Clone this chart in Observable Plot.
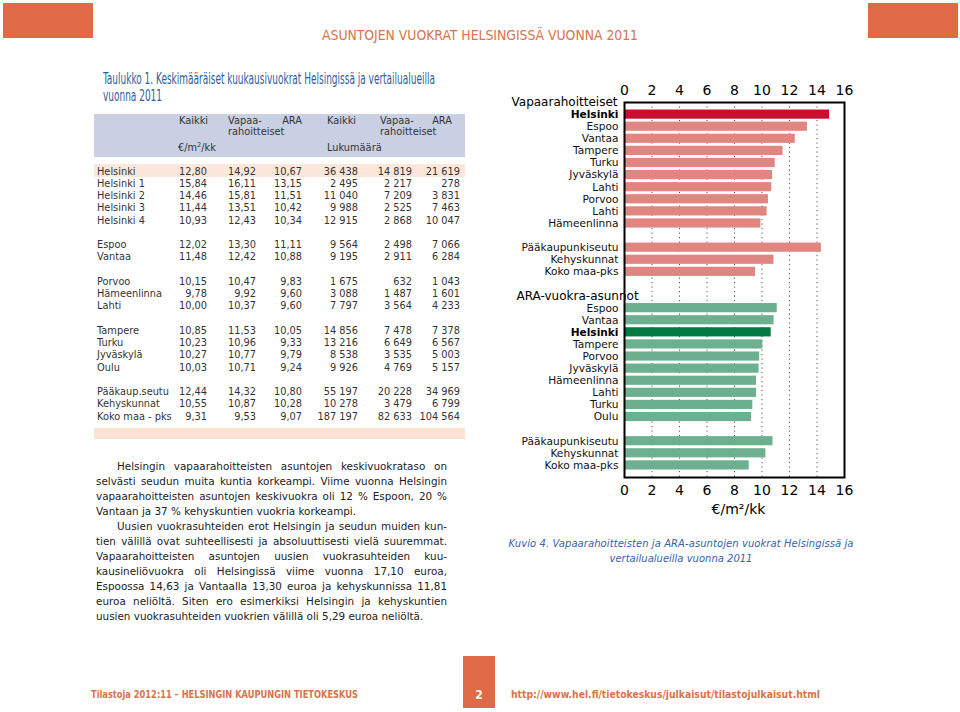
<!DOCTYPE html>
<html><head><meta charset="utf-8">
<script src="https://cdn.jsdelivr.net/npm/d3@7"></script>
<script src="https://cdn.jsdelivr.net/npm/@observablehq/plot@0.6"></script>
<style>
html,body{margin:0;padding:0;background:#fff;}
#page{position:relative;width:960px;height:712px;overflow:hidden;}
#page > svg{position:absolute;left:0;top:0;}
#chart{position:absolute;left:500px;top:80px;}
</style></head><body><div id="page"><div id="chart"></div></div>
<script>
// ---------- Bar chart data (Kuvio 4) ----------
const groupTitles = ["Vapaarahoitteiset", "ARA-vuokra-asunnot"];
const vapaaCities = ["Helsinki","Espoo","Vantaa","Tampere","Turku","Jyväskylä","Lahti","Porvoo","Lahti","Hämeenlinna"];
const vapaaCityValues = [14.92,13.30,12.42,11.53,10.96,10.77,10.71,10.47,10.37,9.92];
const regionLabels = ["Pääkaupunkiseutu","Kehyskunnat","Koko maa-pks"];
const vapaaRegionValues = [14.32,10.87,9.53];
const araCities = ["Espoo","Vantaa","Helsinki","Tampere","Porvoo","Jyväskylä","Hämeenlinna","Lahti","Turku","Oulu"];
const araCityValues = [11.11,10.88,10.67,10.05,9.83,9.79,9.60,9.60,9.33,9.24];
const araRegionValues = [10.80,10.28,9.07];
const xTicks = [0,2,4,6,8,10,12,14,16];
const unitLabel = "€/m²/kk";
const captionLines = ["Kuvio 4.  Vapaarahoitteisten ja ARA-asuntojen vuokrat Helsingissä ja","vertailualueilla vuonna 2011"];

// ---------- Table data (Taulukko 1) ----------
const tableTitle = ["Taulukko 1.  Keskimääräiset kuukausivuokrat Helsingissä ja vertailualueilla","vuonna 2011"];
const tableAreas = [["Helsinki","Helsinki 1","Helsinki 2","Helsinki 3","Helsinki 4"],["Espoo","Vantaa"],["Porvoo","Hämeenlinna","Lahti"],["Tampere","Turku","Jyväskylä","Oulu"],["Pääkaup.seutu","Kehyskunnat","Koko maa - pks"]];
const eurKaikki = [["12,80","15,84","14,46","11,44","10,93"],["12,02","11,48"],["10,15","9,78","10,00"],["10,85","10,23","10,27","10,03"],["12,44","10,55","9,31"]];
const eurVapaa  = [["14,92","16,11","15,81","13,51","12,43"],["13,30","12,42"],["10,47","9,92","10,37"],["11,53","10,96","10,77","10,71"],["14,32","10,87","9,53"]];
const eurAra    = [["10,67","13,15","11,51","10,42","10,34"],["11,11","10,88"],["9,83","9,60","9,60"],["10,05","9,33","9,79","9,24"],["10,80","10,28","9,07"]];
const lkmKaikki = [["36 438","2 495","11 040","9 988","12 915"],["9 564","9 195"],["1 675","3 088","7 797"],["14 856","13 216","8 538","9 926"],["55 197","10 278","187 197"]];
const lkmVapaa  = [["14 819","2 217","7 209","2 525","2 868"],["2 498","2 911"],["632","1 487","3 564"],["7 478","6 649","3 535","4 769"],["20 228","3 479","82 633"]];
const lkmAra    = [["21 619","278","3 831","7 463","10 047"],["7 066","6 284"],["1 043","1 601","4 233"],["7 378","6 567","5 003","5 157"],["34 969","6 799","104 564"]];

// ---------- Text ----------
const headerTitle = "ASUNTOJEN VUOKRAT HELSINGISSÄ VUONNA 2011";
const bodyLines = [
 ["Helsingin vapaarahoitteisten asuntojen keskivuokrataso on", "indent"],
 ["selvästi seudun muita kuntia korkeampi. Viime vuonna Helsingin", "full"],
 ["vapaarahoitteisten asuntojen keskivuokra oli 12 % Espoon, 20 %", "full"],
 ["Vantaan ja 37 % kehyskuntien vuokria korkeampi.", "last"],
 ["Uusien vuokrasuhteiden erot Helsingin ja seudun muiden kun-", "indent"],
 ["tien välillä ovat suhteellisesti ja absoluuttisesti vielä suuremmat.", "full"],
 ["Vapaarahoitteisten asuntojen uusien vuokrasuhteiden kuu-", "full"],
 ["kausineliövuokra oli Helsingissä viime vuonna 17,10 euroa,", "full"],
 ["Espoossa 14,63 ja Vantaalla 13,30 euroa ja kehyskunnissa 11,81", "full"],
 ["euroa neliöltä. Siten ero esimerkiksi Helsingin ja kehyskuntien", "full"],
 ["uusien vuokrasuhteiden vuokrien välillä oli 5,29 euroa neliöltä.", "last"]
];
const footerLeft = "Tilastoja 2012:11  –  HELSINGIN KAUPUNGIN TIETOKESKUS";
const footerPage = "2";
const footerUrl = "http://www.hel.fi/tietokeskus/julkaisut/tilastojulkaisut.html";

// ---------- Build bar rows ----------
const bars = [], titles = [];
let row = 0;
function addGroup(title, cities, cityVals, regVals, baseColor, hlColor) {
  titles.push({label: title, row: row}); row++;
  cities.forEach((c, i) => bars.push({label: c, value: cityVals[i], row: row++, bold: c === "Helsinki", color: c === "Helsinki" ? hlColor : baseColor}));
  row++;
  regionLabels.forEach((c, i) => bars.push({label: c, value: regVals[i], row: row++, bold: false, color: baseColor}));
  row++;
}
addGroup(groupTitles[0], vapaaCities, vapaaCityValues, vapaaRegionValues, "#E0857F", "#C8102E");
addGroup(groupTitles[1], araCities, araCityValues, araRegionValues, "#6DB08F", "#037A42");
const nRows = row - 1;

const font = '"DejaVu Sans", Verdana, sans-serif';
const chart = Plot.plot({
  width: 360, height: 445,
  marginLeft: 124, marginRight: 16, marginTop: 22, marginBottom: 48,
  style: {fontFamily: font, fontSize: "14px", background: "transparent", color: "#000", overflow: "visible"},
  x: {domain: [0, 16]},
  y: {domain: [0, nRows], reverse: true, axis: null},
  marks: [
    Plot.ruleX(xTicks.filter(t => t > 0 && t < 16), {stroke: "#555", strokeDasharray: "1.2,3.3", strokeWidth: 1}),
    Plot.rectX(bars, {x1: d => 0, x2: "value", y1: d => d.row - 0.38, y2: d => d.row + 0.38, fill: d => d.color}),
    Plot.frame({stroke: "#000", strokeWidth: 2}),
    Plot.text(bars.filter(d => !d.bold), {x: d => 0, y: "row", text: "label", textAnchor: "end", dx: -6, fontSize: 10.6, fill: "#111"}),
    Plot.text(bars.filter(d => d.bold), {x: d => 0, y: "row", text: "label", textAnchor: "end", dx: -6, fontSize: 10.6, fontWeight: "bold", fill: "#000"}),
    Plot.text(titles.slice(0, 1), {x: d => 0, y: "row", text: "label", textAnchor: "end", dx: -7, dy: 0, fontSize: 12}),
    Plot.text(titles.slice(1), {x: d => 0, y: "row", text: "label", textAnchor: "start", dx: -108, fontSize: 12}),
    Plot.axisX({anchor: "top", ticks: xTicks, tickSize: 0, tickPadding: 8, label: null, fontSize: 14}),
    Plot.axisX({anchor: "bottom", ticks: xTicks, tickSize: 0, tickPadding: 8, label: null, fontSize: 14}),
    Plot.text([unitLabel], {frameAnchor: "bottom", dx: 4, dy: 36, fontSize: 14})
  ]
});
document.getElementById("chart").appendChild(chart);

// ---------- Page decoration, table, text ----------
const svg = d3.select("#page").insert("svg", "#chart").attr("width", 960).attr("height", 712);
const orange = "#E06A45", orangeText = "#D8734B", blue = "#2E5E9E", grey = "#333";
const cond = '"DejaVu Sans Condensed", "DejaVu Sans", sans-serif';

function txt(s, x, y, o = {}) {
  const t = svg.append("text").attr("x", x).attr("y", y).text(s)
    .attr("font-family", o.family || font).attr("font-size", o.size || 10)
    .attr("fill", o.fill || grey).attr("text-anchor", o.anchor || "start");
  if (o.weight) t.attr("font-weight", o.weight);
  if (o.style) t.attr("font-style", o.style);
  if (o.len) t.attr("textLength", o.len).attr("lengthAdjust", o.adjust || "spacingAndGlyphs");
  if (o.ls) t.attr("letter-spacing", o.ls);
  return t;
}

// header
svg.append("rect").attr("x", 3).attr("y", 3).attr("width", 90).attr("height", 35).attr("fill", orange);
svg.append("rect").attr("x", 868).attr("y", 3).attr("width", 90).attr("height", 35).attr("fill", orange);
txt(headerTitle, 322, 40, {family: cond, size: 13.5, fill: orangeText, len: 316});

// table title
txt(tableTitle[0], 103, 84, {family: cond, size: 15.5, fill: blue, len: 332});
txt(tableTitle[1], 103, 101, {family: cond, size: 15.5, fill: blue, len: 59});

// table bands
svg.append("rect").attr("x", 94).attr("y", 114).attr("width", 371).attr("height", 43).attr("fill", "#C9D0E3");
svg.append("rect").attr("x", 94).attr("y", 164).attr("width", 371).attr("height", 13).attr("fill", "#FBE7DC");
svg.append("rect").attr("x", 94).attr("y", 428).attr("width", 371).attr("height", 11).attr("fill", "#FAE3D6");

const tfs = 9.8;
// header labels
txt("Kaikki", 179, 124, {size: tfs});
txt("Vapaa-", 228, 124, {size: tfs});
txt("ARA", 302, 124, {size: tfs, anchor: "end"});
txt("rahoitteiset", 228, 135, {size: tfs});
txt("Kaikki", 327, 124, {size: tfs});
txt("Vapaa-", 380, 124, {size: tfs});
txt("ARA", 452, 124, {size: tfs, anchor: "end"});
txt("rahoitteiset", 380, 135, {size: tfs});
const eu = txt("€/m", 178, 151, {size: tfs});
eu.append("tspan").attr("dy", -4).attr("font-size", 6.5).text("2");
eu.append("tspan").attr("dy", 4).text("/kk");
txt("Lukumäärä", 327, 151, {size: tfs});

// table rows
const cols = [[eurKaikki, 207], [eurVapaa, 256], [eurAra, 302], [lkmKaikki, 358], [lkmVapaa, 412], [lkmAra, 460]];
let slot = 0;
tableAreas.forEach((grp, g) => {
  grp.forEach((name, i) => {
    const yb = 174.5 + slot * 12.25;
    txt(name, 97, yb, {size: tfs});
    cols.forEach(([arr, xr]) => txt(arr[g][i], xr, yb, {size: tfs, anchor: "end"}));
    slot++;
  });
  slot++;
});

// body text, justified
const bfs = 10.4;
bodyLines.forEach(([line, kind], i) => {
  const yb = 470 + i * 15.0;
  const x0 = kind === "indent" ? 117 : 96;
  const t = txt(line, x0, yb, {size: bfs, fill: "#222"});
  if (kind !== "last") {
    const w = t.node().getComputedTextLength();
    const spaces = (line.match(/ /g) || []).length;
    const target = 447 - x0;
    if (spaces) t.attr("word-spacing", (target - w) / spaces);
  }
});

// caption
txt(captionLines[0], 681, 547, {size: 10, style: "italic", fill: "#3563A8", anchor: "middle", len: 345, adjust: "spacing"});
txt(captionLines[1], 681, 562, {size: 10, style: "italic", fill: "#3563A8", anchor: "middle"});

// footer
svg.append("rect").attr("x", 463).attr("y", 656).attr("width", 32).attr("height", 52).attr("fill", orange);
txt(footerPage, 479, 699, {family: cond, size: 12, fill: "#fff", anchor: "middle", weight: "bold"});
txt(footerLeft, 91, 698, {family: cond, size: 11, fill: orangeText, weight: "bold", len: 267});
txt(footerUrl, 511, 698, {family: cond, size: 11, fill: orangeText, weight: "bold", len: 309});
</script>
</body></html>
